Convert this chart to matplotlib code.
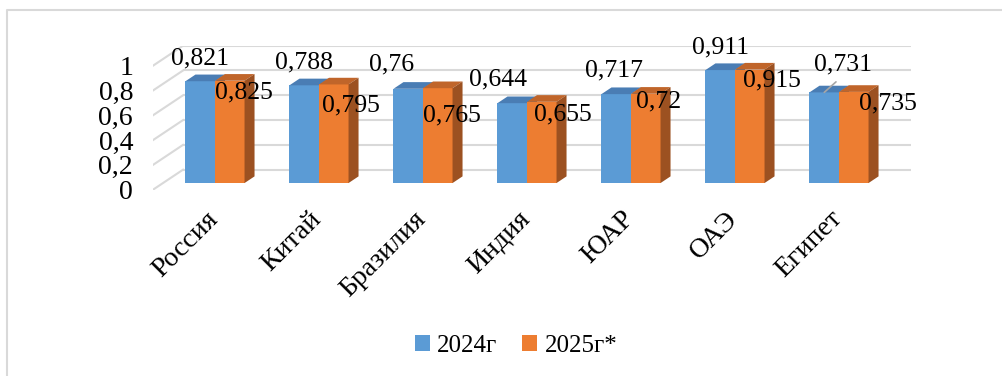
import matplotlib
matplotlib.use("Agg")
import matplotlib.pyplot as plt
from matplotlib.patches import Polygon, Patch
from matplotlib.lines import Line2D

# ---- data ----
countries = ["Россия", "Китай", "Бразилия", "Индия", "ЮАР", "ОАЭ", "Египет"]
values_2024 = [0.821, 0.788, 0.76, 0.644, 0.717, 0.911, 0.731]
values_2025 = [0.825, 0.795, 0.765, 0.655, 0.72, 0.915, 0.735]
series_names = ["2024г", "2025г*"]
y_ticks = [0, 0.2, 0.4, 0.6, 0.8, 1.0]

# ---- styling ----
FONT = "Liberation Serif"
FS_VAL = 18.5
FS_TICK = 20
FS_CAT = 20
FS_LEG = 18
BLUE = ("#5B9BD5", "#4A7DB4", "#41709F")      # front, top, side
ORANGE = ("#ED7D31", "#C0652A", "#9C5121")
GRID = "#D9D9D9"

# pseudo-3D geometry (data units): depth vector of the plot box
DX, DY = 0.2885, 0.1613
BAR_W = 0.284
D0, D1 = 1 / 3, 2 / 3          # bars occupy the middle third of the depth

# value-label offsets in pixels (dx, dy) relative to the top of each bar front
offs_2024 = [(0, 17), (0, 17), (-17, 18), (-14, 18), (-2, 18), (0, 17), (19, 22)]
offs_2025 = [(14, -18), (17, -27), (14, -33), (21, -19), (13, -14), (22, -17), (34, -18)]
leader_2024 = [False, False, False, False, False, False, True]

plt.rcParams["font.family"] = FONT
W, H = 1003, 376
fig = plt.figure(figsize=(W / 100, H / 100), dpi=100)

# axes: one category = 104 px, one unit of value = 124 px
px_x, px_y = 104, 124
ax_w = px_x * (len(countries) + DX)
ax_h = px_y * (1 + DY)
ax = fig.add_axes([153 / W, 1 - 189.7 / H, ax_w / W, ax_h / H])
ax.set_xlim(-0.5, len(countries) - 0.5 + DX)
ax.set_ylim(0, 1 + DY)
ax.patch.set_visible(False)
for s in ax.spines.values():
    s.set_visible(False)

# back wall and side wall gridlines
x_left = -0.5
x_right = len(countries) - 0.5
for t in y_ticks:
    ax.plot([x_left + DX, x_right + DX], [t + DY, t + DY], color=GRID, lw=1.5,
            zorder=1, solid_capstyle="butt")
    ax.plot([x_left, x_left + DX], [t, t + DY], color=GRID, lw=1.5, zorder=1)


def draw_bars(xs_left, vals, colors, draw_side):
    front, top, side = colors
    base = DY * D0
    sx, sy = DX * (D1 - D0), DY * (D1 - D0)
    ax.bar(xs_left, vals, width=BAR_W, bottom=base, align="edge",
           color=front, zorder=3, linewidth=0)
    for x0, v in zip(xs_left, vals):
        x1 = x0 + BAR_W
        yt = base + v
        ax.add_patch(Polygon([(x0, yt), (x1, yt), (x1 + sx, yt + sy), (x0 + sx, yt + sy)],
                             closed=True, facecolor=top, edgecolor="none", zorder=3))
        if draw_side:
            ax.add_patch(Polygon([(x1, base), (x1, yt), (x1 + sx, yt + sy), (x1 + sx, base + sy)],
                                 closed=True, facecolor=side, edgecolor="none", zorder=3))


idx = range(len(countries))
left_2024 = [i - BAR_W + DX * D0 for i in idx]
left_2025 = [i + DX * D0 for i in idx]
draw_bars(left_2024, values_2024, BLUE, True)
draw_bars(left_2025, values_2025, ORANGE, True)


def fmt(v):
    return f"{v:g}".replace(".", ",")


def label_bars(lefts, vals, offs, leaders=None):
    for k, (x0, v, (ox, oy)) in enumerate(zip(lefts, vals, offs)):
        xy = (x0 + BAR_W / 2, DY * D0 + v)
        kw = {}
        if leaders and leaders[k]:
            kw["arrowprops"] = dict(arrowstyle="-", color="#A6A6A6", lw=1.2,
                                    shrinkA=4, shrinkB=0, relpos=(0.5, 0))
        ax.annotate(fmt(v), xy=xy, xytext=(ox, oy), textcoords="offset pixels",
                    ha="center", va="baseline", fontsize=FS_VAL, color="black",
                    zorder=5, **kw)


label_bars(left_2024, values_2024, offs_2024, leader_2024)
label_bars(left_2025, values_2025, offs_2025)

# axis labels
ax.set_yticks(y_ticks)
ax.set_yticklabels([fmt(t) for t in y_ticks], fontsize=FS_TICK)
ax.set_xticks(list(idx))
ax.set_xticklabels(countries, fontsize=FS_CAT, rotation=45, ha="right", va="top",
                   rotation_mode="anchor")
ax.tick_params(axis="y", length=0, pad=14.4)
ax.tick_params(axis="x", length=0, pad=12.0)

# legend
handles = [Patch(facecolor=BLUE[0], edgecolor="none"),
           Patch(facecolor=ORANGE[0], edgecolor="none")]
fig.legend(handles, series_names, loc="center", bbox_to_anchor=(516 / W, 1 - 346 / H),
           ncol=2, frameon=False, fontsize=FS_LEG, handlelength=0.6, handleheight=0.6,
           handletextpad=0.3, columnspacing=1.0)

# chart-area frame (left and top edges)
fig.add_artist(Line2D([7.5 / W, 7.5 / W, 1.0], [0.0, 1 - 9.5 / H, 1 - 9.5 / H],
                      transform=fig.transFigure, color="#D9D9D9", lw=1.5))

fig.savefig("out.png", dpi=100)
